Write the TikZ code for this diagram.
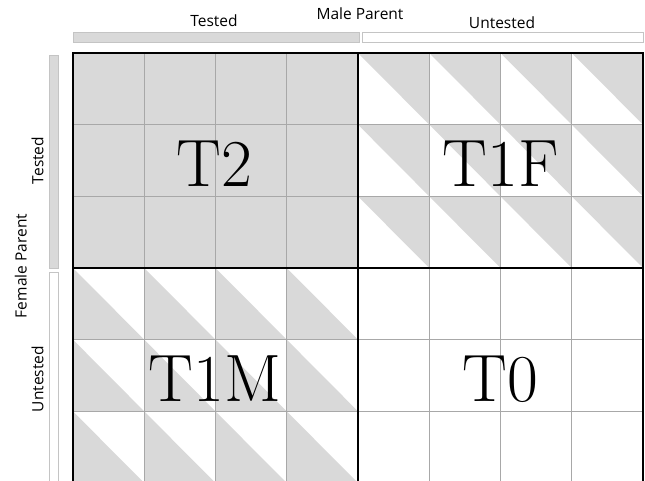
\documentclass[tikz,border=0pt]{standalone}
\usepackage{fontspec}
\newfontfamily\labelfont{Open Sans}
\usepackage{xcolor}
\usetikzlibrary{positioning}
\definecolor{cellgray}{HTML}{D9D9D9}
\definecolor{bandedge}{HTML}{C4C4C4}
\definecolor{thinline}{HTML}{A8A8A8}

\begin{document}
\begin{tikzpicture}[
  x=1pt, y=-1pt,
  gridline/.style={draw=thinline, line width=0.7pt},
  quadline/.style={draw=black, line width=1.5pt},
  grayband/.style={fill=cellgray, draw=bandedge, line width=0.6pt},
  whiteband/.style={fill=white, draw=bandedge, line width=0.6pt},
  axislabel/.style={font=\labelfont\fontsize{15.5}{18}\selectfont, text=black, inner sep=0pt, anchor=base},
  classlabel/.style={font=\fontsize{67}{67}\selectfont, inner sep=0pt, anchor=base},
]
\useasboundingbox (0,0) rectangle (645,481);
\clip (0,0) rectangle (645,481);

% Tested x Tested block
\fill[cellgray] (73,53) rectangle (358,268);

% Untested male: upper-right halves
\foreach \i in {0,1,2,3}
  \foreach \j in {0,1,2}
    \fill[cellgray] ({358+71.25*\i},{53+71.67*\j}) -- ++(71.25,0) -- ++(0,71.67) -- cycle;

% Untested female: lower-left halves
\foreach \i in {0,1,2,3}
  \foreach \j in {0,1,2}
    \fill[cellgray] ({73+71.25*\i},{268+71.67*\j}) -- ++(0,71.67) -- ++(71.25,0) -- cycle;

% Thin grid
\foreach \i in {1,...,7}
  \draw[gridline] ({73+71.25*\i},53) -- ({73+71.25*\i},483);
\foreach \j in {1,2,4,5}
  \draw[gridline] (73,{53+71.67*\j}) -- (643,{53+71.67*\j});

% Quadrant borders
\draw[quadline] (73,53) rectangle (643,483);
\draw[quadline] (358,53) -- (358,483);
\draw[quadline] (73,268) -- (643,268);

% Bands
\draw[grayband] (73,32) rectangle (359,42);
\draw[whiteband] (362.5,32) rectangle (643,42);
\draw[grayband] (49,55) rectangle (58,268);
\draw[whiteband] (49,272) rectangle (58,490);

% Axis labels
\node[axislabel] (male) at (360,19.3) {Male Parent};
\node[axislabel] (maleTested) at (214,26.7) {Tested};
\node[axislabel] (maleUntested) at (502,28.5) {Untested};
\node[axislabel, rotate=90] (female) at (26.7,266) {Female Parent};
\node[axislabel, rotate=90] (femaleTested) at (43.3,160.5) {Tested};
\node[axislabel, rotate=90] (femaleUntested) at (43.3,379) {Untested};

% Class labels
\node[classlabel] (t2) at (214.5,186.7) {T2};
\node[classlabel] (t1f) at (500.5,186.7) {T1F};
\node[classlabel] (t1m) at (215,401.7) {T1M};
\node[classlabel] (t0) at (500.5,401.7) {T0};

\end{tikzpicture}
\end{document}
